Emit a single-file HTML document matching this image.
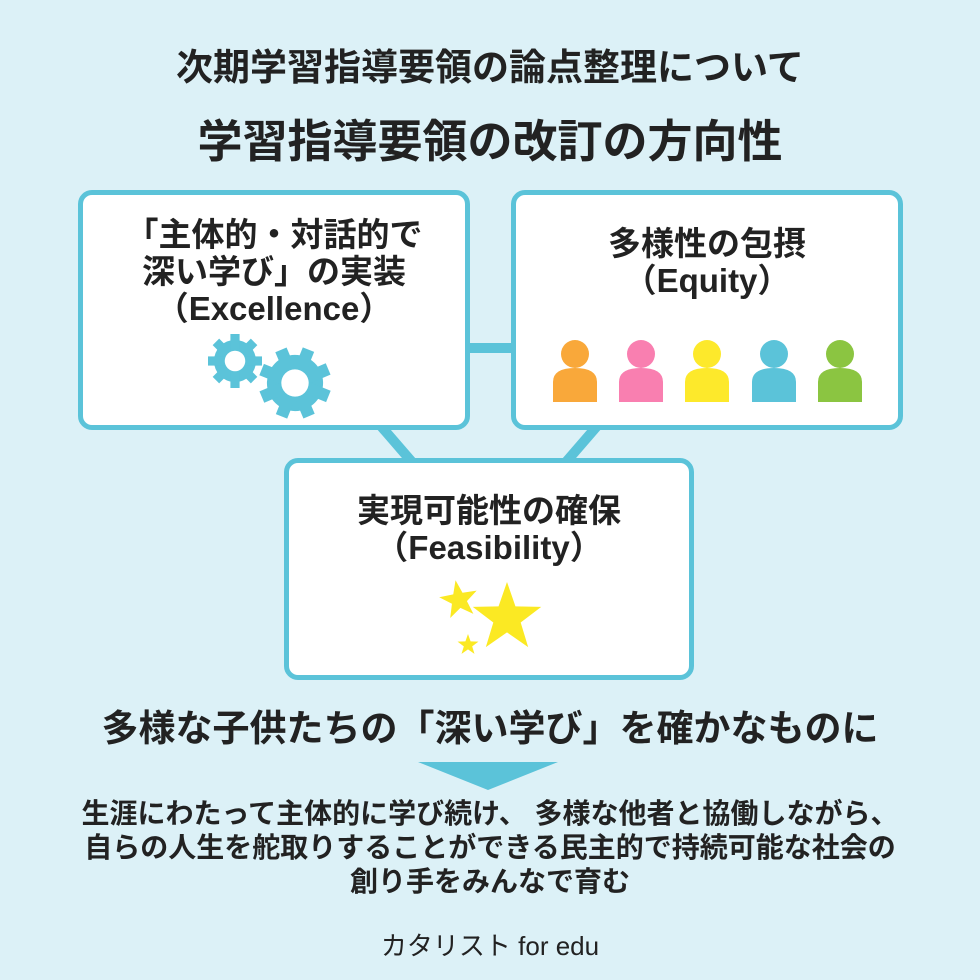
<!DOCTYPE html>
<html><head><meta charset="utf-8"><style>
body{margin:0;width:980px;height:980px;background:#dcf1f7;font-family:"Liberation Sans","Noto Sans CJK JP",sans-serif;color:#222;position:relative;overflow:hidden}
.t{position:absolute;left:0;width:980px;text-align:center;font-weight:bold;white-space:nowrap}
.box{position:absolute;background:#fff;border:5px solid #5bc3d9;border-radius:14px;box-sizing:border-box}
.bt{position:absolute;left:-20px;right:-20px;text-align:center;font-weight:bold;font-size:33px;line-height:37px;white-space:nowrap}
</style></head><body>
<svg width="980" height="980" style="position:absolute;left:0;top:0">
<line x1="460" y1="348" x2="520" y2="348" stroke="#5bc3d9" stroke-width="10"/>
<line x1="380" y1="425" x2="412" y2="462" stroke="#5bc3d9" stroke-width="10"/>
<line x1="598" y1="425" x2="566" y2="462" stroke="#5bc3d9" stroke-width="10"/>
</svg>
<div class="t" style="top:46px;font-size:37px;line-height:44px">次期学習指導要領の論点整理について</div>
<div class="t" style="top:115px;font-size:45px;line-height:54px">学習指導要領の改訂の方向性</div>
<div class="box" style="left:78px;top:190px;width:392px;height:240px">
<div class="bt" style="top:21px">「主体的・対話的で<br>深い学び」の実装<br>（Excellence）</div></div>
<div class="box" style="left:511px;top:190px;width:392px;height:240px">
<div class="bt" style="top:30px">多様性の包摂<br>（Equity）</div></div>
<div class="box" style="left:284px;top:458px;width:410px;height:222px">
<div class="bt" style="top:29px">実現可能性の確保<br>（Feasibility）</div></div>
<svg width="980" height="980" style="position:absolute;left:0;top:0">
<defs>
<g id="gear"><circle r="0.78" fill="#5bc3d9"/>
<g fill="#5bc3d9"><rect x="-0.17" y="-1" width="0.34" height="2"/><rect x="-0.17" y="-1" width="0.34" height="2" transform="rotate(45)"/><rect x="-0.17" y="-1" width="0.34" height="2" transform="rotate(90)"/><rect x="-0.17" y="-1" width="0.34" height="2" transform="rotate(135)"/></g>
<circle r="0.38" fill="#fff"/></g>
<g id="p"><circle cx="0" cy="-16" r="14"/><path d="M-22,32 L-22,12 Q-22,-2 0,-2 Q22,-2 22,12 L22,32 Z"/></g>
</defs>
<use href="#gear" transform="translate(235,361) scale(27)"/>
<use href="#gear" transform="translate(295,383) scale(36) rotate(22)"/>
<g transform="translate(0,370)">
<use href="#p" x="575" fill="#f9a83a"/>
<use href="#p" x="641" fill="#f97fb0"/>
<use href="#p" x="707" fill="#fde92b"/>
<use href="#p" x="774" fill="#5bc3d9"/>
<use href="#p" x="840" fill="#8bc541"/>
</g>
<g fill="#fbe923">
<polygon transform="translate(507,618) scale(36)" points="0,-1 0.235,-0.324 0.951,-0.309 0.38,0.124 0.588,0.809 0,0.4 -0.588,0.809 -0.38,0.124 -0.951,-0.309 -0.235,-0.324"/>
<polygon transform="translate(459,600) scale(20) rotate(-10)" points="0,-1 0.235,-0.324 0.951,-0.309 0.38,0.124 0.588,0.809 0,0.4 -0.588,0.809 -0.38,0.124 -0.951,-0.309 -0.235,-0.324"/>
<polygon transform="translate(468,645) scale(11)" points="0,-1 0.235,-0.324 0.951,-0.309 0.38,0.124 0.588,0.809 0,0.4 -0.588,0.809 -0.38,0.124 -0.951,-0.309 -0.235,-0.324"/>
</g>
<polygon points="418,762 558,762 488,790" fill="#5bc3d9"/>
</svg>
<div class="t" style="top:706px;font-size:37px;line-height:46px">多様な子供たちの「深い学び」を確かなものに</div>
<div class="t" style="top:797px;font-size:28px;line-height:34px">生涯にわたって主体的に学び続け、 多様な他者と協働しながら、<br>自らの人生を舵取りすることができる民主的で持続可能な社会の<br>創り手をみんなで育む</div>
<div class="t" style="top:930px;font-size:26px;line-height:32px;font-weight:normal">カタリスト for edu</div>
</body></html>
